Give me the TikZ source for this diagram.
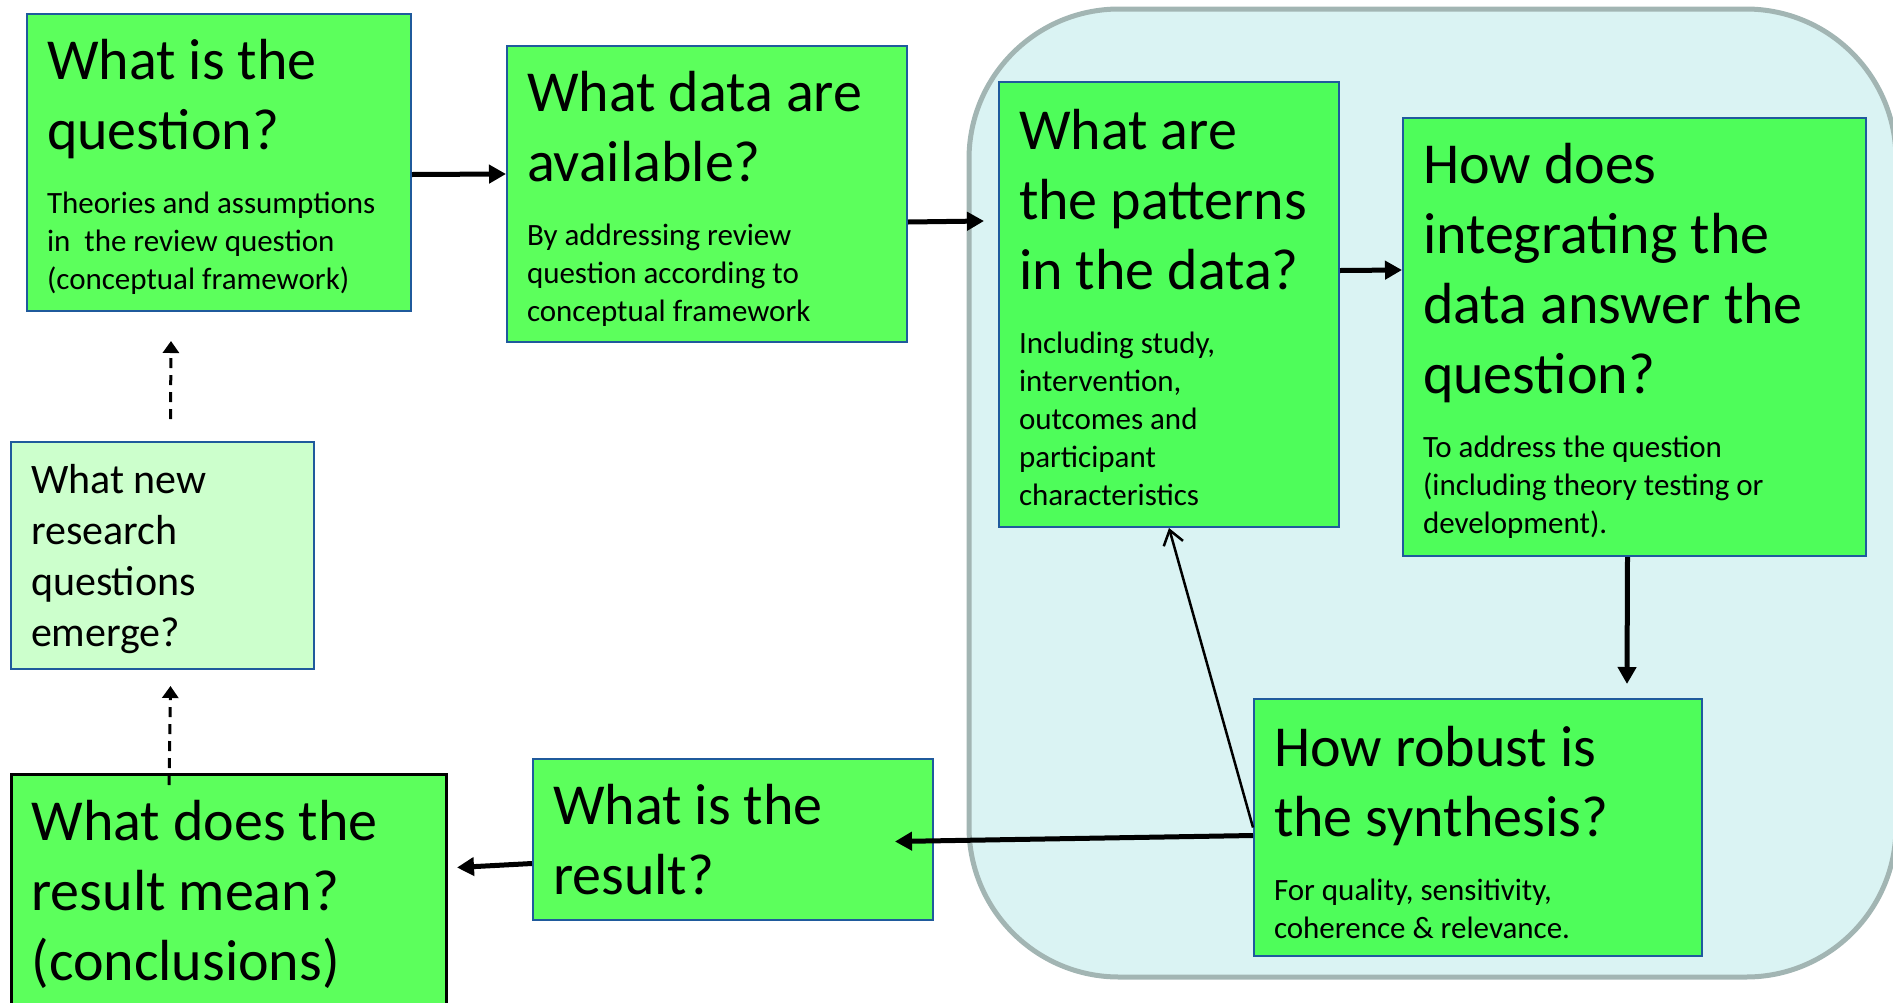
\documentclass[tikz,border=0pt]{standalone}
\usepackage{fontspec}
\setmainfont{Carlito}
\usetikzlibrary{arrows.meta,positioning}
\setlength{\parindent}{0pt}
\setlength{\parskip}{0pt}

\definecolor{boxgreen}{HTML}{5CFF5C}
\definecolor{ingreen}{HTML}{4EFD5A}
\definecolor{palegreen}{HTML}{CCFFCC}
\definecolor{boxblue}{HTML}{1F5A9C}
\definecolor{cloud}{HTML}{DAF3F3}
\definecolor{cloudline}{HTML}{A2B5B3}

\newcommand{\bigq}{\fontsize{58}{70}\selectfont}
\newcommand{\smallq}{\fontsize{31}{38}\selectfont}
\newcommand{\midq}{\fontsize{42}{51}\selectfont}

\begin{document}
\begin{tikzpicture}[x=1pt,y=-1pt,
box/.style={draw=boxblue,line width=2pt,fill=boxgreen,anchor=north west,
  align=flush left,inner xsep=20pt,inner ysep=0pt},
inbox/.style={box,fill=ingreen},
arr/.style={line width=5pt,-{Triangle[length=17pt,width=18pt]}},
dasharr/.style={line width=3pt,dash pattern=on 10pt off 7pt,
  -{Triangle[length=12pt,width=16pt]}},
thinarr/.style={line width=2.5pt,-{Straight Barb[length=14pt,width=20pt]}}]
\path[use as bounding box,clip] (0,0) rectangle (1893,1002);
% grey synthesis zone
\draw[cloudline,fill=cloud,line width=5pt,rounded corners=150pt]
  (969,9) rectangle (1896,977);
\node[box,minimum width=384pt,minimum height=297pt,text width=344pt] (q) at (26,13)
{{\bigq\rule{0pt}{48pt}What is the\\question?\par}\vspace{26pt}
{\smallq Theories and assumptions\\in~ the review question\\(conceptual framework)\par}};
\node[box,minimum width=400pt,minimum height=296pt,text width=360pt] (data) at (506,45)
{{\bigq\rule{0pt}{50pt}What data are\\available?\par}\vspace{26pt}
{\smallq By addressing review\\question according to\\conceptual framework\par}};
\node[inbox,minimum width=340pt,minimum height=445pt,text width=300pt] (pat) at (998,81)
{{\bigq\rule{0pt}{46pt}What are\\the patterns\\in the data?\par}\vspace{26pt}
{\smallq Including study,\\intervention,\\outcomes and\\participant\\characteristics\par}};
\node[inbox,minimum width=463pt,minimum height=438pt,text width=423pt] (integ) at (1402,117)
{{\bigq\rule{0pt}{48pt}How does\\integrating the\\data answer the\\question?\par}\vspace{26pt}
{\smallq To address the question\\(including theory testing or\\development).\par}};
\node[inbox,minimum width=448pt,minimum height=257pt,text width=408pt] (robust) at (1253,698)
{{\bigq\rule{0pt}{50pt}How robust is\\the synthesis?\par}\vspace{26pt}
{\smallq For quality, sensitivity,\\coherence \& relevance.\par}};
\node[box,minimum width=400pt,minimum height=161pt,text width=360pt] (result) at (532,758)
{{\bigq What is the\\result?\par}};
\node[box,draw=black,line width=3pt,minimum width=435pt,minimum height=240pt,
  text width=395pt] (mean) at (10,773)
{{\bigq What does the\\result mean?\\(conclusions)\par}};
\node[box,fill=palegreen,minimum width=303pt,minimum height=227pt,text width=263pt]
  (newq) at (10,441)
{{\midq\rule{0pt}{36pt}What new\\research\\questions\\emerge?\par}};
\coordinate (inlet) at (984,221);
% connectors
\draw[arr] ([yshift=-12pt]q.east) -- ([yshift=20pt]data.west);
\draw[arr] ([yshift=-28pt]data.east) -- (inlet);
\draw[arr] ([yshift=34pt]pat.east) -- ([yshift=67pt]integ.west);
\draw[arr] ([xshift=-7pt]integ.south) -- ([xshift=149pt,yshift=14pt]robust.north);
\draw[arr] ([yshift=-8pt]robust.west) -- ([xshift=-39pt,yshift=-2pt]result.east);
\draw[arr] ([yshift=-24pt]result.west) -- ([xshift=9pt,yshift=27pt]mean.east);
\draw[thinarr] (robust.west) -- (pat.south);
\draw[dasharr] ([xshift=-60pt,yshift=-12pt]mean.north) -- ([xshift=8pt,yshift=-16pt]newq.south);
\draw[dasharr] ([xshift=8pt,yshift=22pt]newq.north) -- ([xshift=-48pt,yshift=-29pt]q.south);
\end{tikzpicture}
\end{document}
